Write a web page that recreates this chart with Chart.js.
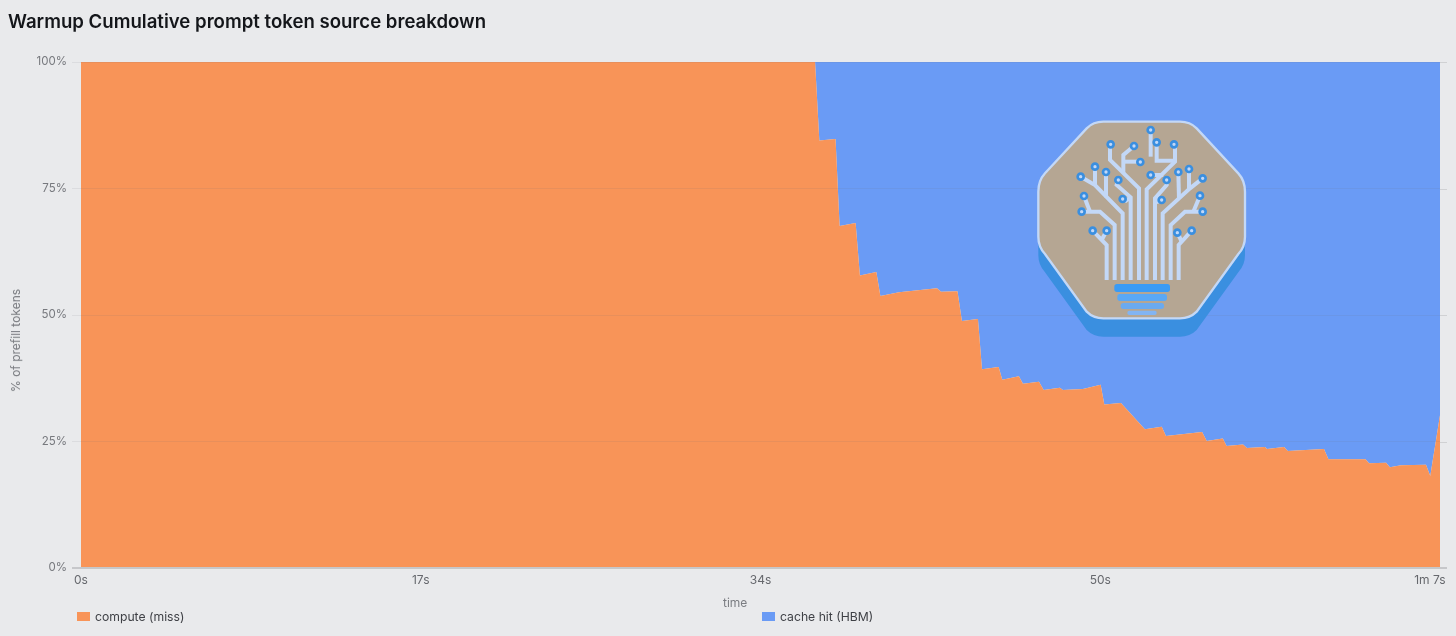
<!DOCTYPE html>
<html>
<head>
<meta charset="utf-8">
<title>Warmup Cumulative prompt token source breakdown</title>
<script src="https://cdn.jsdelivr.net/npm/chart.js@4"></script>
<style>
	html, body { margin: 0; padding: 0; background: #e9eaec; }
	body { width: 1456px; height: 636px; position: relative; overflow: hidden; font-family: Inter, sans-serif; }
	#wrap { position: absolute; left: 0; top: 0; width: 1456px; height: 636px; }
	h1 { position: absolute; left: 8px; top: 9px; margin: 0; font-size: 18.6px; line-height: 24px; font-weight: 600; color: #14161a; white-space: nowrap; }
	.axis-title { position: absolute; font-size: 12px; color: #7b7d82; white-space: nowrap; }
	.legend-item { position: absolute; top: 610px; font-size: 12.2px; line-height: 14px; color: #3f4146; white-space: nowrap; }
	.legend-color { display: inline-block; width: 13px; height: 9px; margin-right: 5px; }
	#logo { position: absolute; left: 1020px; top: 110px; width: 240px; height: 240px; }
</style>
</head>
<body>
<div id="wrap"><canvas id="chart" width="1456" height="636"></canvas></div>
<h1>Warmup Cumulative prompt token source breakdown</h1>
<div class="axis-title" style="left:723px;top:595px;">time</div>
<div class="axis-title" style="left:8px;top:289px;writing-mode:vertical-rl;transform:rotate(180deg);">% of prefill tokens</div>
<div class="legend-item" style="left:77px;"><span class="legend-color" style="background:#f89458;"></span>compute (miss)</div>
<div class="legend-item" style="left:762px;"><span class="legend-color" style="background:#6a9bf5;"></span>cache hit (HBM)</div>

<svg id="logo" viewBox="0 0 720 720">
	<defs>
		<path id="octagon" d="M250 35 H480 Q510 35 530 55 L655 190 Q675 212 675 245 V380 Q675 410 655 432 L530 605 Q510 625 480 625 H250 Q220 625 200 605 L75 432 Q55 410 55 380 V245 Q55 212 75 190 L200 55 Q220 35 250 35 Z"/>
	</defs>
	<use href="#octagon" y="55" fill="#3a8fe0"/>
	<use href="#octagon" fill="#b5a693" stroke="#c3d8f7" stroke-width="7"/>
	<g fill="none" stroke="#c3d8f7" stroke-width="12">
		<path d="M357 510 V235 L270 150 V105"/>
		<path d="M310 190 V135 L342 108"/>
		<path d="M312 155 H360"/>
		<path d="M380 510 V238 L465 155 V103"/>
		<path d="M465 152 H410 V97"/>
		<path d="M392 60 V140"/>
		<path d="M392 195 H430"/>
		<path d="M332 510 V262 L290 225 L295 210"/>
		<path d="M332 262 L318 272 L308 267"/>
		<path d="M308 510 V310 L225 225 L182 200"/>
		<path d="M225 225 V170"/>
		<path d="M258 262 V186"/>
		<path d="M284 510 V345 L240 305 H185"/>
		<path d="M210 305 L192 258"/>
		<path d="M260 510 V405 L218 362"/>
		<path d="M245 390 L260 362"/>
		<path d="M405 510 V265 L440 225 V210"/>
		<path d="M405 265 L414 275 L425 270"/>
		<path d="M428 510 V310 L510 235 L548 205"/>
		<path d="M477 265 L475 186"/>
		<path d="M507 240 V177"/>
		<path d="M452 510 V345 L495 305 H548"/>
		<path d="M520 305 L540 257"/>
		<path d="M476 510 V405 L515 362"/>
		<path d="M485 395 L472 368"/>
	</g>
	<g fill="#c3d8f7" stroke="#3a8fe0" stroke-width="8">
		<circle cx="272" cy="103" r="9"/><circle cx="342" cy="108" r="9"/><circle cx="361" cy="156" r="9"/>
		<circle cx="392" cy="60" r="9"/><circle cx="410" cy="97" r="9"/><circle cx="462" cy="103" r="9"/>
		<circle cx="392" cy="195" r="9"/><circle cx="295" cy="210" r="9"/><circle cx="308" cy="267" r="9"/>
		<circle cx="182" cy="200" r="9"/><circle cx="225" cy="170" r="9"/><circle cx="258" cy="186" r="9"/>
		<circle cx="185" cy="305" r="9"/><circle cx="192" cy="258" r="9"/><circle cx="218" cy="362" r="9"/>
		<circle cx="260" cy="362" r="9"/><circle cx="440" cy="210" r="9"/><circle cx="425" cy="270" r="9"/>
		<circle cx="548" cy="205" r="9"/><circle cx="475" cy="186" r="9"/><circle cx="507" cy="177" r="9"/>
		<circle cx="548" cy="305" r="9"/><circle cx="540" cy="257" r="9"/><circle cx="515" cy="362" r="9"/>
		<circle cx="472" cy="368" r="9"/>
	</g>
	<rect x="283" y="522" width="167" height="24" rx="8" fill="#3a9bf5"/>
	<rect x="292" y="552" width="149" height="21" rx="8" fill="#5aa8f5"/>
	<rect x="302" y="579" width="130" height="18" rx="8" fill="#6aaaf0"/>
	<rect x="322" y="602" width="88" height="13" rx="6" fill="#82b4f2"/>
</svg>

<script>
// tiempos en segundos y porcentajes
const timeSec = [0, 36.19, 36.40, 37.20, 37.40, 38.19, 38.40, 39.21, 39.41, 40.33, 42.20, 42.40, 43.21, 43.43, 44.22, 44.42, 45.24, 45.42, 46.24, 46.44, 47.23, 47.46, 48.26, 48.41, 49.40, 50.27, 50.45, 51.27, 52.45, 53.28, 53.49, 55.27, 55.50, 56.29, 56.48, 57.29, 57.48, 58.37, 58.47, 59.31, 59.50, 61.28, 61.50, 63.33, 63.50, 64.34, 64.53, 65.08, 66.31, 66.52, 67];
const computeMiss = [100, 100, 84.5, 84.8, 67.6, 68.2, 57.8, 58.5, 53.75, 54.5, 55.3, 54.6, 54.7, 48.8, 49.2, 39.3, 39.7, 37.2, 37.9, 36.4, 36.8, 35.2, 35.6, 35.2, 35.4, 36.2, 32.3, 32.6, 27.4, 27.9, 26.1, 26.9, 25.1, 25.6, 24.1, 24.4, 23.7, 23.9, 23.5, 23.9, 23.1, 23.5, 21.5, 21.5, 20.7, 20.8, 19.9, 20.3, 20.4, 18.2, 30.2];
const cacheHit = [0, 0, 15.5, 15.2, 32.4, 31.8, 42.2, 41.5, 46.25, 45.5, 44.7, 45.4, 45.3, 51.2, 50.8, 60.7, 60.3, 62.8, 62.1, 63.6, 63.2, 64.8, 64.4, 64.8, 64.6, 63.8, 67.7, 67.4, 72.6, 72.1, 73.9, 73.1, 74.9, 74.4, 75.9, 75.6, 76.3, 76.1, 76.5, 76.1, 76.9, 76.5, 78.5, 78.5, 79.3, 79.2, 80.1, 79.7, 79.6, 81.8, 69.8];
const xTickValues = [0, 16.75, 33.5, 50.25, 67];
const xTickLabels = ['0s', '17s', '34s', '50s', '1m 7s'];
const yTickValues = [0, 25, 50, 75, 100];

const tickColor = '#77797e';
const gridColor = 'rgba(110, 110, 115, 0.11)';

function toPoints(values) {
	return values.map((v, i) => ({ x: timeSec[i], y: v }));
}

// prolonga grid y eje por la derecha del area
const rightStubs = {
	id: 'rightStubs',
	afterDraw(chart) {
		const ctx = chart.ctx;
		const area = chart.chartArea;
		const yScale = chart.scales.y;
		ctx.save();
		ctx.strokeStyle = 'rgba(110, 110, 115, 0.2)';
		ctx.lineWidth = 1;
		yTickValues.forEach(v => {
			if (v === 0) return;
			const y = Math.round(yScale.getPixelForValue(v)) + 0.5;
			ctx.beginPath();
			ctx.moveTo(area.right, y);
			ctx.lineTo(area.right + 7, y);
			ctx.stroke();
		});
		ctx.strokeStyle = '#c6c7ca';
		ctx.lineWidth = 2;
		ctx.beginPath();
		ctx.moveTo(area.left - 9, area.bottom);
		ctx.lineTo(area.right + 7, area.bottom);
		ctx.stroke();
		ctx.restore();
	}
};

const ctx = document.getElementById('chart').getContext('2d');
new Chart(ctx, {
	type: 'line',
	data: {
		datasets: [
			{
				label: 'compute (miss)',
				data: toPoints(computeMiss),
				backgroundColor: '#f89458',
				borderWidth: 0,
				pointRadius: 0,
				tension: 0,
				fill: 'origin'
			},
			{
				label: 'cache hit (HBM)',
				data: toPoints(cacheHit),
				backgroundColor: '#6a9bf5',
				borderWidth: 0,
				pointRadius: 0,
				tension: 0,
				fill: '-1'
			}
		]
	},
	options: {
		responsive: false,
		animation: false,
		layout: { padding: { top: 62, right: 16, left: 0, bottom: 0 } },
		plugins: {
			legend: { display: false },
			tooltip: { enabled: false }
		},
		scales: {
			x: {
				type: 'linear',
				min: 0,
				max: 67,
				afterBuildTicks: scale => { scale.ticks = xTickValues.map(v => ({ value: v })); },
				afterFit: scale => {
					scale.height = 68;
					scale.paddingRight = 0;
				},
				grid: { display: false },
				border: { display: false },
				ticks: {
					autoSkip: false,
					maxRotation: 0,
					padding: -3,
					color: '#66686d',
					font: { family: 'Inter', size: 12 },
					callback: (value, index) => index === 4 ? xTickLabels[index] + '      ' : xTickLabels[index]
				}
			},
			y: {
				stacked: true,
				min: 0,
				max: 100,
				afterBuildTicks: scale => { scale.ticks = yTickValues.map(v => ({ value: v })); },
				afterFit: scale => { scale.width = 81; },
				grid: { color: gridColor, z: 1, tickLength: 9 },
				border: { display: false },
				ticks: {
					padding: 5,
					color: tickColor,
					font: { family: 'Inter', size: 11.5 },
					callback: value => value + '%'
				}
			}
		}
	},
	plugins: [rightStubs]
});
</script>
</body>
</html>
